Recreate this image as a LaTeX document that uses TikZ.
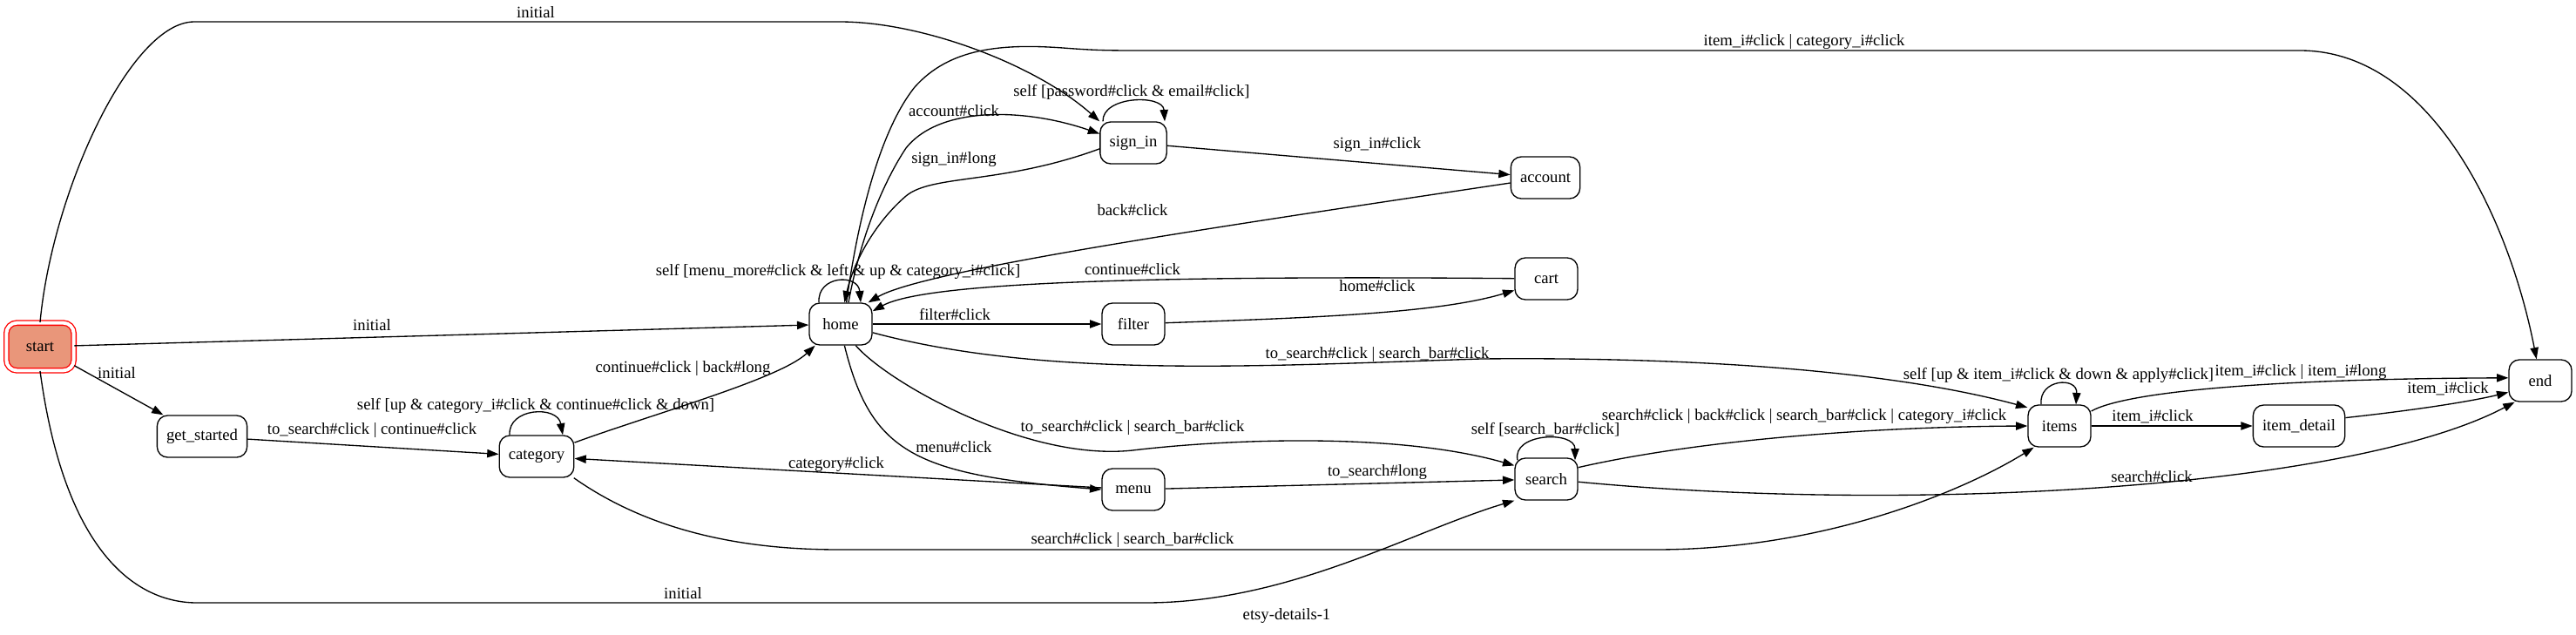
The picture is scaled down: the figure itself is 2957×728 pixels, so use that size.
\documentclass[tikz,border=0pt]{standalone}
\usepackage{fontspec}
\setmainfont{Liberation Serif}
\usepackage{tikz}
\usetikzlibrary{calc, arrows.meta}
\definecolor{mysalmon}{RGB}{233, 150, 122}
\tikzset{>={Triangle[length=10pt, width=7pt]}}

\begin{document}
\begin{tikzpicture}[
    x = 0.75pt, y = -0.75pt,
    st/.style = {draw, line width = 1pt, rounded corners = 9pt, minimum width = 54pt,
                 minimum height = 36pt, inner xsep = 8pt, font = \fontsize{14}{16}\selectfont},
    tr/.style = {->, line width = 1pt},
    lb/.style = {font = \fontsize{14}{16}\selectfont, inner sep = 0pt}
]
\useasboundingbox (0,0) rectangle (2957,728);

% states
\node[st, fill = mysalmon, draw = red, double = white, double distance = 3pt,
      minimum width = 58pt, minimum height = 41pt] (start) at (46,398) {start};
\node[st] (get_started) at (232,501) {get\_started};
\node[st] (category) at (616,524) {category};
\node[st] (home) at (965,372) {home};
\node[st] (sign_in) at (1301,164) {sign\_in};
\node[st] (account) at (1774,204) {account};
\node[st] (cart) at (1775,320) {cart};
\node[st] (filter) at (1301,372) {filter};
\node[st] (menu) at (1301,562) {menu};
\node[st] (search) at (1775,550) {search};
\node[st] (items) at (2364,489) {items};
\node[st] (item_detail) at (2639,489) {item\_detail};
\node[st] (end) at (2916,437) {end};

% initial
\draw[tr] (start.north) .. controls (60,220) and (150,25) .. (223,25) -- (964,25)
    .. controls (1060,25) and (1190,75) .. (sign_in.north west) node[lb] at (615,14) {initial};
\draw[tr] (start) -- (home) node[lb] at (427,373) {initial};
\draw[tr] (start) -- (get_started) node[lb] at (134,428) {initial};
\draw[tr] (start.south) .. controls (75,640) and (160,692) .. (226,692) -- (1315,692)
    .. controls (1480,692) and (1620,610) .. (search.south west) node[lb] at (784,681) {initial};

\draw[tr] (get_started) -- (category) node[lb] at (427,494) {to\_search\#click | continue\#click};
\draw[tr] ($(category.north)+(-31,0)$) .. controls (583,468) and (640,465) .. ($(category.north)+(30,0)$)
    node[lb] at (615,466) {self [up \& category\_i\#click \& continue\#click \& down]};
\draw[tr] (category) .. controls (750,475) and (895,435) .. (home.-140)
    node[lb] at (784,423) {continue\#click | back\#long};
\draw[tr] (category.-30) .. controls (760,620) and (880,631) .. (964,631) -- (1900,631)
    .. controls (2100,631) and (2260,560) .. (items.-140) node[lb] at (1300,620) {search\#click | search\_bar\#click};

% home
\draw[tr] ($(home.north)+(-25,0)$) .. controls (938,316) and (985,314) .. ($(home.north)+(23,0)$)
    node[lb] at (962,312) {self [menu\_more\#click \& left \& up \& category\_i\#click]};
\draw[tr] (home.70) .. controls (990,260) and (1020,200) .. (1040,170)
    .. controls (1080,120) and (1180,125) .. (sign_in.165) node[lb] at (1095,127) {account\#click};
\draw[tr] (sign_in.190) .. controls (1150,212) and (1070,200) .. (1040,225)
    .. controls (1005,255) and (980,300) .. (home.80) node[lb] at (1095,183) {sign\_in\#long};
\draw[tr] ($(sign_in.north)+(-35,0)$) .. controls (1265,110) and (1335,108) .. ($(sign_in.north)+(36,0)$)
    node[lb] at (1299,106) {self [password\#click \& email\#click]};
\draw[tr] (sign_in) -- (account) node[lb] at (1581,166) {sign\_in\#click};
\draw[tr] (account) .. controls (1400,260) and (1060,310) .. (home.38) node[lb] at (1300,241) {back\#click};
\draw[tr] (cart) .. controls (1300,316) and (1060,325) .. (home.22) node[lb] at (1300,309) {continue\#click};
\draw[tr] (home) -- (filter) node[lb] at (1096,361) {filter\#click};
\draw[tr] (filter) .. controls (1500,365) and (1650,360) .. (cart.-160) node[lb] at (1581,328) {home\#click};
\draw[tr] (home.-15) .. controls (1200,435) and (1450,420) .. (1700,412)
    .. controls (1900,410) and (2150,420) .. (items.150) node[lb] at (1581,407) {to\_search\#click | search\_bar\#click};
\draw[tr] (home.-55) .. controls (1020,440) and (1180,530) .. (1300,517)
    .. controls (1400,505) and (1600,495) .. (search.157) node[lb] at (1300,491) {to\_search\#click | search\_bar\#click};
\draw[tr] (home.-80) .. controls (1000,520) and (1050,545) .. (menu.west) node[lb] at (1095,513) {menu\#click};
\draw[tr] (home.75) .. controls (985,250) and (1010,150) .. (1050,100) .. controls (1090,55) and (1150,50) .. (1220,55)
    .. controls (1260,58) and (1270,58) .. (1320,58) -- (2640,58)
    .. controls (2790,58) and (2880,250) .. (end.100) node[lb] at (2071,48) {item\_i\#click | category\_i\#click};

% menu, search
\draw[tr] (menu) -- (category) node[lb] at (960,533) {category\#click};
\draw[tr] (menu) -- (search) node[lb] at (1581,542) {to\_search\#long};
\draw[tr] ($(search.north)+(-33,3)$) .. controls (1735,497) and (1808,494) .. ($(search.north)+(33,3)$)
    node[lb] at (1774,493) {self [search\_bar\#click]};
\draw[tr] (search.20) .. controls (1950,505) and (2150,490) .. (items.west)
    node[lb] at (2071,478) {search\#click | back\#click | search\_bar\#click | category\_i\#click};
\draw[tr] (search.-5) .. controls (2200,590) and (2700,560) .. (end.-140) node[lb] at (2470,547) {search\#click};

% items
\draw[tr] ($(items.north)+(-21,0)$) .. controls (2340,435) and (2385,432) .. ($(items.north)+(19,0)$)
    node[lb] at (2363,431) {self [up \& item\_i\#click \& down \& apply\#click]};
\draw[tr] (items.25) .. controls (2440,450) and (2600,435) .. (end.175) node[lb] at (2641,427) {item\_i\#click | item\_i\#long};
\draw[tr] (items) -- (item_detail) node[lb] at (2471,478) {item\_i\#click};
\draw[tr] (item_detail.10) .. controls (2780,470) and (2840,460) .. (end.-160) node[lb] at (2810,446) {item\_i\#click};

\node[lb] (caption) at (1477,707) {etsy-details-1};

\end{tikzpicture}
\end{document}
